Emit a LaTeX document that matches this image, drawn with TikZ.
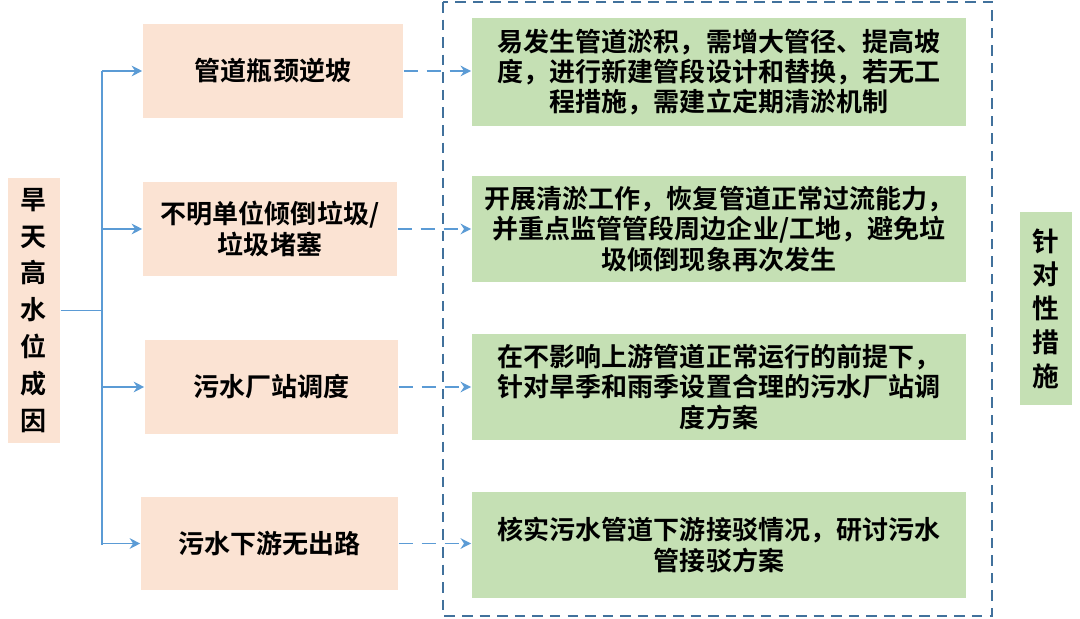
\documentclass[tikz,border=0pt]{standalone}
\usepackage{fontspec}
\setmainfont{Noto Sans CJK SC}[BoldFont={Noto Sans CJK SC Bold}]
\usetikzlibrary{arrows.meta}
\definecolor{peach}{HTML}{FBE3D3}
\definecolor{grn}{HTML}{C5E0B4}
\definecolor{ln}{HTML}{5B9BD5}
\definecolor{frm}{HTML}{41719C}
\begin{document}
\begin{tikzpicture}[x=0.01cm,y=-0.01cm,
  txt/.style={font=\fontsize{7.4pt}{8.6pt}\selectfont\bfseries,align=center},
  cause/.style={txt,fill=peach,inner sep=0pt},
  meas/.style={txt,fill=grn,inner sep=0pt,minimum width=4.94cm},
  arr/.style={ln,line width=0.5pt,-{Stealth[length=3pt,width=3pt]}},
  darr/.style={arr,dash pattern=on 4pt off 2.5pt}]
\useasboundingbox (0,0) rectangle (1080,619);
\node[cause,minimum width=0.52cm,minimum height=2.65cm,font=\fontsize{7.4pt}{10.5pt}\selectfont\bfseries] (L) at (34,310.5) {旱\\天\\高\\水\\位\\成\\因};
\node[cause,minimum width=2.6cm,minimum height=0.94cm] (c1) at (273,71) {管道瓶颈逆坡};
\node[cause,minimum width=2.54cm,minimum height=0.94cm] (c2) at (270,229) {不明单位倾倒垃圾/\\垃圾堵塞};
\node[cause,minimum width=2.53cm,minimum height=0.94cm] (c3) at (271.5,387) {污水厂站调度};
\node[cause,minimum width=2.57cm,minimum height=0.93cm] (c4) at (269.5,543.5) {污水下游无出路};
\node[meas,minimum height=1.08cm] (m1) at (719,72) {易发生管道淤积，需增大管径、提高坡\\度，进行新建管段设计和替换，若无工\\程措施，需建立定期清淤机制};
\node[meas,minimum height=1.06cm] (m2) at (719,229) {开展清淤工作，恢复管道正常过流能力，\\并重点监管管段周边企业/工地，避免垃\\圾倾倒现象再次发生};
\node[meas,minimum height=1.06cm] (m3) at (719,387) {在不影响上游管道正常运行的前提下，\\针对旱季和雨季设置合理的污水厂站调\\度方案};
\node[meas,minimum height=1.06cm] (m4) at (719,545) {核实污水管道下游接驳情况，研讨污水\\管接驳方案};
\node[txt,fill=grn,minimum width=0.52cm,minimum height=1.93cm,inner sep=0pt,font=\fontsize{7.6pt}{9.6pt}\selectfont\bfseries] (R) at (1046,308.5) {针\\对\\性\\措\\施};
\draw[frm,line width=0.8pt,dash pattern=on 3pt off 2pt] (443,2) rectangle (992,616);
\coordinate (j) at (102,310.5);
\draw[ln,line width=0.5pt] (L.east) -- (j);
\draw[ln,line width=0.5pt] (102,71) -- (102,545);
\foreach \i in {1,2,3,4} {\draw[arr] (j|-c\i.west) -- (c\i.west);}
\foreach \i in {1,2,3,4} {\draw[darr] (c\i.east) -- (c\i.east-|m\i.west);}
\end{tikzpicture}
\end{document}
